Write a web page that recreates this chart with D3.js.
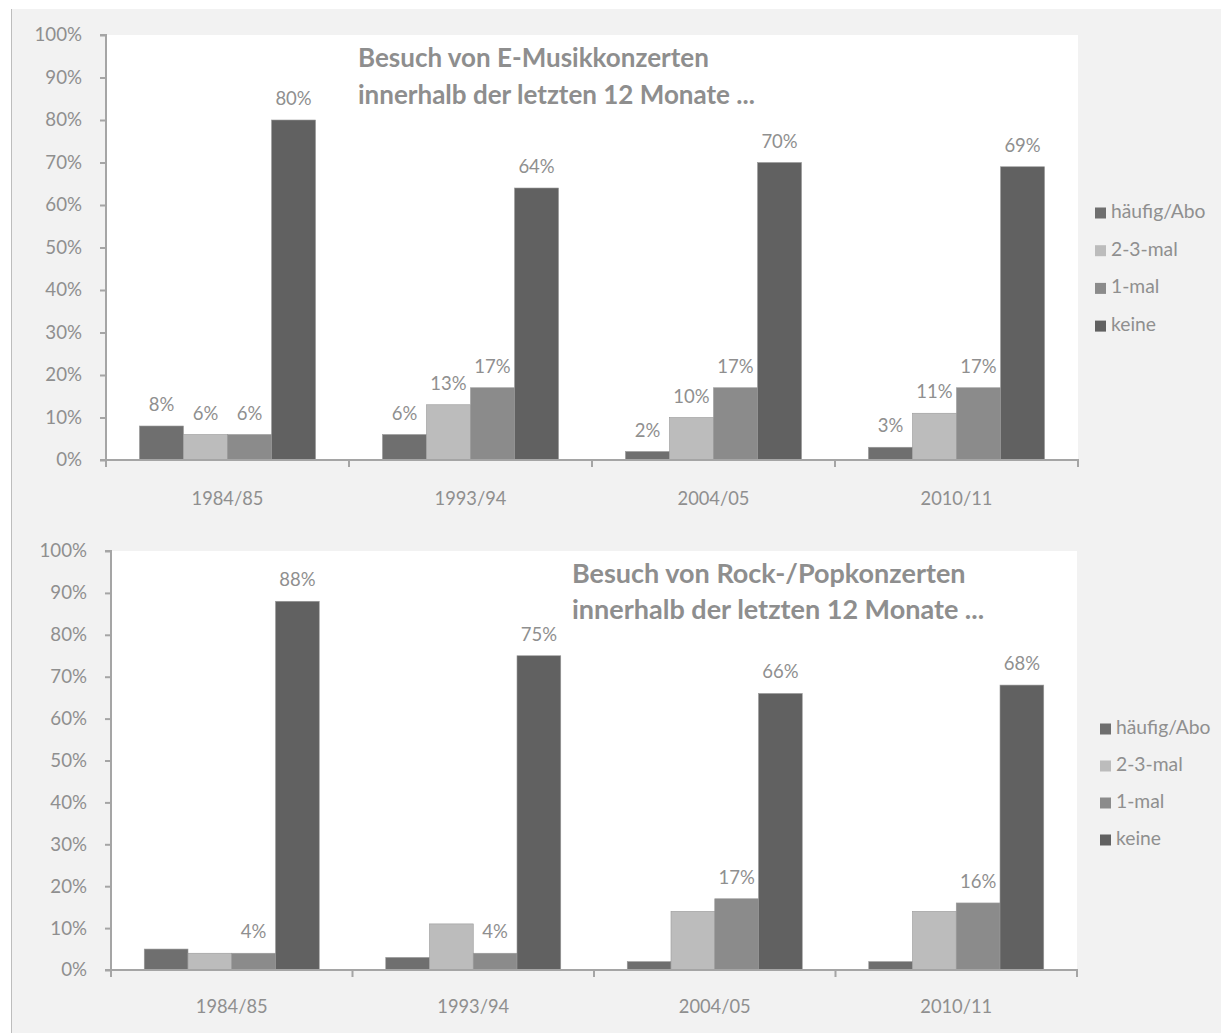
<!DOCTYPE html>
<html>
<head>
<meta charset="utf-8">
<script src="https://cdn.jsdelivr.net/npm/d3@7"></script>
<style>
  html, body { margin: 0; padding: 0; background: #ffffff; }
  svg { display: block; font-family: "Lato", "Open Sans", sans-serif; }
</style>
</head>
<body>
<svg id="chart" width="1221" height="1033"></svg>
<script>
// Survey years and answer categories
const categories = ["1984/85", "1993/94", "2004/05", "2010/11"];
const seriesNames = ["häufig/Abo", "2-3-mal", "1-mal", "keine"];
const seriesColors = ["#6f6f6f", "#bcbcbc", "#8b8b8b", "#616161"];
const yTicks = [0, 10, 20, 30, 40, 50, 60, 70, 80, 90, 100];

// Classical concerts (E-Musik), percent
const klassikHaeufig = [8, 6, 2, 3];
const klassikZweiDrei = [6, 13, 10, 11];
const klassikEinmal = [6, 17, 17, 17];
const klassikKeine = [80, 64, 70, 69];
const klassikLabeled = [true, true, true, true];

// Rock/pop concerts, percent
const rockHaeufig = [5, 3, 2, 2];
const rockZweiDrei = [4, 11, 14, 14];
const rockEinmal = [4, 4, 17, 16];
const rockKeine = [88, 75, 66, 68];
const rockLabeled = [false, false, true, true];

const titleKlassik = ["Besuch von E-Musikkonzerten", "innerhalb der letzten 12 Monate ..."];
const titleRock = ["Besuch von Rock-/Popkonzerten", "innerhalb der letzten 12 Monate ..."];

const svg = d3.select("#chart");
const textColor = "#8f8f8f";
const axisColor = "#a5a5a5";

// grey background panel with left border
svg.append("rect").attr("x", 11).attr("y", 9).attr("width", 1210).attr("height", 1024)
  .attr("fill", "#f2f2f2");
svg.append("line").attr("x1", 11.5).attr("x2", 11.5).attr("y1", 9).attr("y2", 1033)
  .attr("stroke", "#bdbdbd").attr("stroke-width", 1);

function drawPanel(opt) {
  const series = opt.series;
  const g = svg.append("g");

  const x = d3.scaleBand().domain(categories).range([opt.left, opt.right]).paddingInner(0).paddingOuter(0);
  const y = d3.scaleLinear().domain([0, 100]).range([opt.bottom, opt.top]);
  const inner = d3.scaleBand().domain(d3.range(seriesNames.length))
    .range([0, x.bandwidth()]).paddingOuter(0.76).paddingInner(0);

  // white plot area
  g.append("rect").attr("x", opt.left).attr("y", opt.top)
    .attr("width", opt.right - opt.left).attr("height", opt.bottom - opt.top).attr("fill", "#ffffff");

  // bars
  series.forEach((vals, si) => {
    g.selectAll(null).data(vals).join("rect")
      .attr("x", (d, i) => x(categories[i]) + inner(si))
      .attr("y", d => y(d))
      .attr("width", inner.bandwidth())
      .attr("height", d => y(0) - y(d))
      .attr("fill", seriesColors[si])
      .attr("stroke", "#9a9a9a").attr("stroke-width", 0.6);
  });

  // value labels
  series.forEach((vals, si) => {
    if (!opt.labeled[si]) return;
    g.selectAll(null).data(vals).join("text")
      .attr("x", (d, i) => x(categories[i]) + inner(si) + inner.bandwidth() / 2)
      .attr("y", d => y(d) - 15)
      .attr("text-anchor", "middle")
      .attr("fill", textColor).attr("font-size", 18.5)
      .text(d => d + "%");
  });

  // y axis
  const yAxis = d3.axisLeft(y).tickValues(yTicks).tickFormat(d => d + "%").tickSize(6).tickPadding(18);
  const ya = g.append("g").attr("transform", `translate(${opt.left},0)`).call(yAxis);
  ya.select(".domain").attr("stroke", axisColor).attr("stroke-width", 2)
    .attr("d", `M-6,${opt.top}H0V${opt.bottom}`);
  ya.selectAll(".tick line").attr("stroke", axisColor).attr("stroke-width", 2);
  ya.selectAll(".tick text").attr("fill", textColor).attr("font-size", 18.7)
    .attr("font-family", "Lato, sans-serif");

  // x axis with ticks at category boundaries
  const xa = g.append("g").attr("transform", `translate(0,${opt.bottom})`);
  xa.append("line").attr("x1", opt.left - 6).attr("x2", opt.right + 1)
    .attr("stroke", axisColor).attr("stroke-width", 2);
  const bounds = categories.map(c => x(c)).concat([opt.right]);
  xa.selectAll(".b").data(bounds).join("line")
    .attr("x1", d => d).attr("x2", d => d).attr("y1", 0).attr("y2", 7)
    .attr("stroke", axisColor).attr("stroke-width", 2);
  xa.selectAll(".cat").data(categories).join("text")
    .attr("x", d => x(d) + x.bandwidth() / 2)
    .attr("y", opt.catY - opt.bottom)
    .attr("text-anchor", "middle").attr("dominant-baseline", "middle")
    .attr("fill", textColor).attr("font-size", 18.3)
    .text(d => d);

  // title
  const t = g.append("text").attr("x", opt.titleX).attr("fill", "#8e8e8e")
    .attr("font-weight", "bold").attr("font-size", opt.titleSize);
  opt.title.forEach((line, i) => {
    t.append("tspan").attr("x", opt.titleX).attr("y", opt.titleY + i * opt.titleGap).text(line);
  });

  // legend
  const lg = g.append("g").attr("transform", `translate(${opt.legendX},${opt.legendY})`);
  seriesNames.forEach((name, i) => {
    const row = lg.append("g").attr("transform", `translate(0,${i * opt.legendGap})`);
    row.append("rect").attr("x", 0).attr("y", -5.5).attr("width", 11).attr("height", 11)
      .attr("fill", seriesColors[i]);
    row.append("text").attr("x", 16).attr("y", 0).attr("dominant-baseline", "middle")
      .attr("fill", textColor).attr("font-size", 19.3).text(name);
  });
}

drawPanel({
  series: [klassikHaeufig, klassikZweiDrei, klassikEinmal, klassikKeine],
  labeled: klassikLabeled,
  left: 106, right: 1078, top: 35, bottom: 460, catY: 500,
  title: titleKlassik, titleX: 358, titleY: 67, titleGap: 37, titleSize: 26,
  legendX: 1095, legendY: 213, legendGap: 37.7
});

drawPanel({
  series: [rockHaeufig, rockZweiDrei, rockEinmal, rockKeine],
  labeled: rockLabeled,
  left: 111, right: 1077, top: 551, bottom: 970, catY: 1008,
  title: titleRock, titleX: 572, titleY: 583, titleGap: 35.5, titleSize: 27,
  legendX: 1100, legendY: 729, legendGap: 37
});
</script>
</body>
</html>
